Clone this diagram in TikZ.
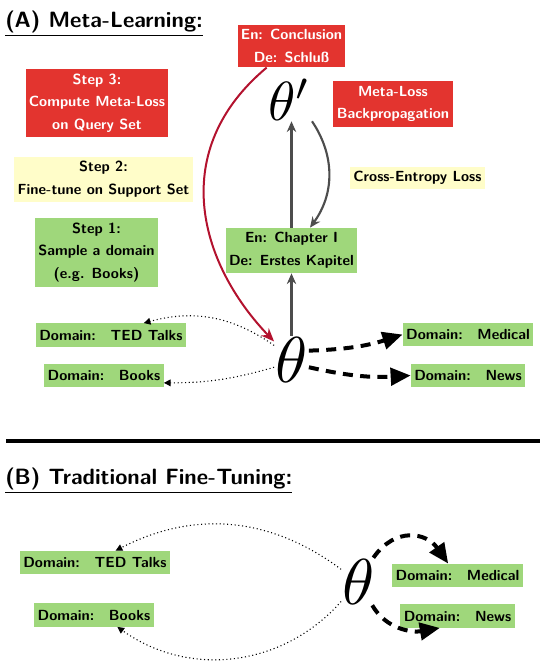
\documentclass[tikz,border=0pt]{standalone}
\usepackage[rgb]{xcolor}
\usetikzlibrary{arrows.meta}
\definecolor{ml_red}{HTML}{E3342F}
\definecolor{ml_crimson}{HTML}{B3122E}
\definecolor{ml_green}{HTML}{9FD77B}
\definecolor{ml_yellow}{HTML}{FFFDC9}
\definecolor{ml_gray}{HTML}{4D4D4D}

\begin{document}
\begin{tikzpicture}[x=0.75pt, y=-0.75pt,
    basebox/.style={font=\fontsize{11}{17}\selectfont\sffamily\bfseries, align=center, inner xsep=2.5pt, inner ysep=3.5pt},
    redbox/.style={basebox, fill=ml_red, text=white},
    greenbox/.style={basebox, fill=ml_green},
    yellowbox/.style={basebox, fill=ml_yellow},
    domainbox/.style={greenbox, minimum height=17.5pt},
    bigtheta/.style={inner sep=0pt, scale=4.86},
    grayarrow/.style={ml_gray, line width=1.6pt, -{Stealth[length=8pt, width=7pt]}},
    dotarrow/.style={line width=0.8pt, dotted, -{Triangle[length=5pt, width=5pt]}},
    dasharrow/.style={line width=3pt, dash pattern=on 7.5pt off 5.5pt, -{Triangle[length=15pt, width=13pt]}}]

    \useasboundingbox (0, 0) rectangle (545, 663);

    % (A)
    \node[anchor=base west, inner sep=0pt, font=\fontsize{16.6}{18}\selectfont\sffamily\bfseries] (ta) at (5, 28) {\underline{(A) Meta-Learning:}};

    \node[redbox] (s3) at (97, 103) {Step 3:\\Compute Meta-Loss\\on Query Set};
    \node[yellowbox] (s2) at (103.5, 179.5) {Step 2:\\Fine-tune on Support Set};
    \node[greenbox] (s1) at (96.5, 252.5) {Step 1:\\Sample a domain\\(e.g. Books)};

    \node[redbox] (c) at (291.5, 46) {En: Conclusion\\De: Schluß};
    \node[bigtheta, scale=0.85] (tp) at (289.5, 99.5) {$\theta'$};
    \node[redbox] (bp) at (393, 104) {Meta-Loss\\Backpropagation};
    \node[yellowbox] (ce) at (417.5, 178) {Cross-Entropy Loss};
    \node[greenbox] (ch) at (291.5, 250.5) {En: Chapter I\\De: Erstes Kapitel};
    \node[bigtheta] (t) at (291.5, 359.5) {$\theta$};

    \node[domainbox] (a1) at (111, 335) {Domain:\quad{}TED Talks};
    \node[domainbox] (a2) at (104, 375.5) {Domain:\quad{}Books};
    \node[domainbox] (a3) at (468, 334.5) {Domain:\quad{}Medical};
    \node[domainbox] (a4) at (468, 375.5) {Domain:\quad{}News};

    \draw[grayarrow] (t.north) -- (ch.south);
    \draw[grayarrow] (ch.north) -- (ch.north |- tp.south);
    \draw[grayarrow] (tp.south east) to[bend left=35] (ch.51);
    \draw[ml_crimson, line width=1.5pt, -{Stealth[length=10pt, width=8pt]}] (c.221) .. controls (168, 150) and (198, 262) .. (t.134);

    \draw[dotarrow] (t.141) to[bend right=25] (a1.20);
    \draw[dotarrow] (t.204) to[bend left=8] (a2.353);
    \draw[dasharrow] (t.27) to[bend right=8] (a3.west);
    \draw[dasharrow] (t.336) to[bend right=8] (a4.west);

    \draw[line width=3pt] (6, 441) -- (540, 441);

    % (B)
    \node[anchor=base west, inner sep=0pt, font=\fontsize{16.6}{18}\selectfont\sffamily\bfseries] (tb) at (5, 484.5) {\underline{(B) Traditional Fine-Tuning:}};

    \node[bigtheta] (t2) at (358.5, 581.5) {$\theta$};
    \node[domainbox] (b1) at (95, 562.5) {Domain:\quad{}TED Talks};
    \node[domainbox] (b2) at (94, 615) {Domain:\quad{}Books};
    \node[domainbox] (b3) at (457.5, 575.5) {Domain:\quad{}Medical};
    \node[domainbox] (b4) at (457.5, 616) {Domain:\quad{}News};

    \draw[dotarrow] (t2.145) to[bend right=32] (b1.30);
    \draw[dotarrow] (t2.229) to[bend left=42] (b2.333);
    \draw[dasharrow] (t2.58) to[out=55, in=125, looseness=1.3] (b3.128);
    \draw[dasharrow] (t2.300) to[out=-60, in=190] (b4.214);

\end{tikzpicture}
\end{document}
